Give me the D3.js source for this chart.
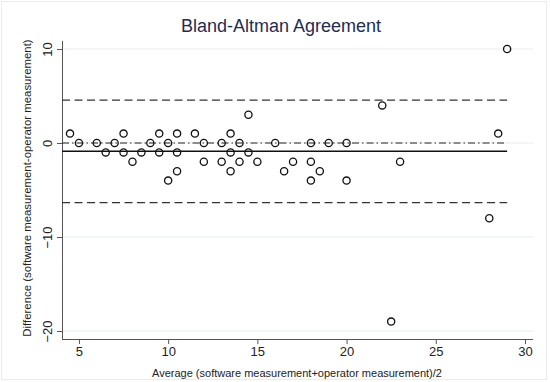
<!DOCTYPE html>
<html>
<head>
<meta charset="utf-8">
<script src="https://cdn.jsdelivr.net/npm/d3@7"></script>
<style>
  body { margin: 0; background: #fff; }
  text { font-family: "Liberation Sans", Arial, sans-serif; }
</style>
</head>
<body>
<script>
var w = 550, h = 382;

// averages (x) and differences (y)
var avgVals = [4.5, 5, 6, 6.5, 7, 7.5, 7.5, 8, 8.5, 9, 9.5, 9.5, 10, 10, 10.5, 10.5, 10.5,
  11.5, 12, 12, 13, 13, 13.5, 13.5, 13.5, 14, 14, 14.5, 14.5, 15, 16, 16.5, 17, 18, 18, 18,
  18.5, 19, 20, 20, 22, 22.5, 23, 28, 28.5, 29];
var diffVals = [1, 0, 0, -1, 0, 1, -1, -2, -1, 0, 1, -1, 0, -4, 1, -1, -3,
  1, 0, -2, 0, -2, 1, -1, -3, 0, -2, 3, -1, -2, 0, -3, -2, 0, -2, -4,
  -3, 0, 0, -4, 4, -19, -2, -8, 1, 10];

var meanDiff = -0.88;
var upperLoA = 4.57;
var lowerLoA = -6.35;

var xTicks = [5, 10, 15, 20, 25, 30];
var yTicks = [-20, -10, 0, 10];

var points = avgVals.map(function(d, i) {
  return { avg: d, diff: diffVals[i] };
});

var container = d3.select("body")
  .append("svg")
  .attr("width", w)
  .attr("height", h);

// faint frame round the picture
container.append("rect")
  .attr("x", 1.5)
  .attr("y", 1.5)
  .attr("width", 545)
  .attr("height", 378)
  .style("fill", "#fff")
  .style("stroke", "#ececec");

var x = d3.scaleLinear()
  .domain([4.05, 30.45])
  .range([62, 533]);

var y = d3.scaleLinear()
  .domain([-20.85, 10.85])
  .range([339, 41]);

// grid lines
container.selectAll(".grid")
  .data(yTicks)
  .enter()
  .append("line")
  .attr("class", "grid")
  .attr("x1", 62)
  .attr("x2", 533)
  .attr("y1", function(d) { return y(d); })
  .attr("y2", function(d) { return y(d); })
  .style("stroke", "#e9eeee")
  .style("stroke-width", 1);

// axes
var xAxis = d3.axisBottom(x)
  .tickValues(xTicks)
  .tickSize(5)
  .tickPadding(3);

var yAxis = d3.axisLeft(y)
  .tickValues(yTicks)
  .tickSize(5)
  .tickPadding(3);

var gx = container.append("g")
  .attr("class", "xaxis")
  .attr("transform", "translate(0,339)")
  .call(xAxis);

var gy = container.append("g")
  .attr("class", "yaxis")
  .attr("transform", "translate(62,0)")
  .call(yAxis);

gx.select(".domain").attr("d", "M62,0.5H533").style("stroke", "#555");
gy.select(".domain").attr("d", "M0.5,41V339").style("stroke", "#555");
container.selectAll(".tick line").style("stroke", "#555");
container.selectAll(".tick text")
  .style("font-size", "13px")
  .style("fill", "#222")
  .style("font-family", "'Liberation Sans', Arial, sans-serif");

gy.selectAll(".tick text")
  .attr("x", null)
  .attr("dy", null)
  .attr("text-anchor", "middle")
  .attr("transform", "translate(-10,0) rotate(-90)")
  .attr("y", 0);

// reference lines: mean (solid), zero (dash-dot), limits (dashed)
var xMin = d3.min(avgVals), xMax = d3.max(avgVals);

var refLines = [
  { v: upperLoA, dash: "8,4.5", color: "#333", width: 1.3 },
  { v: lowerLoA, dash: "8,4.5", color: "#333", width: 1.3 },
  { v: 0, dash: "7,3,1.5,3", color: "#222", width: 1.1 },
  { v: meanDiff, dash: null, color: "#111", width: 1.4 }
];

container.selectAll(".ref")
  .data(refLines)
  .enter()
  .append("line")
  .attr("class", "ref")
  .attr("x1", x(xMin) - 8)
  .attr("x2", x(xMax))
  .attr("y1", function(d) { return y(d.v); })
  .attr("y2", function(d) { return y(d.v); })
  .style("stroke", function(d) { return d.color; })
  .style("stroke-width", function(d) { return d.width; })
  .style("stroke-dasharray", function(d) { return d.dash; });

// points
container.selectAll(".pt")
  .data(points)
  .enter()
  .append("circle")
  .attr("class", "pt")
  .attr("cx", function(d) { return x(d.avg); })
  .attr("cy", function(d) { return y(d.diff); })
  .attr("r", 3.6)
  .style("fill", "none")
  .style("stroke", "#111")
  .style("stroke-width", 1.3);

// titles
container.append("text")
  .attr("x", 281)
  .attr("y", 32)
  .attr("text-anchor", "middle")
  .style("font-size", "18px")
  .style("fill", "#1f2d52")
  .text("Bland-Altman Agreement");

container.append("text")
  .attr("x", 297)
  .attr("y", 377)
  .attr("text-anchor", "middle")
  .style("font-size", "11px")
  .style("fill", "#222")
  .text("Average (software measurement+operator measurement)/2");

container.append("text")
  .attr("transform", "translate(31,188) rotate(-90)")
  .attr("text-anchor", "middle")
  .style("font-size", "11.4px")
  .style("fill", "#222")
  .text("Difference (software measurement-operator measurement)");
</script>
</body>
</html>
